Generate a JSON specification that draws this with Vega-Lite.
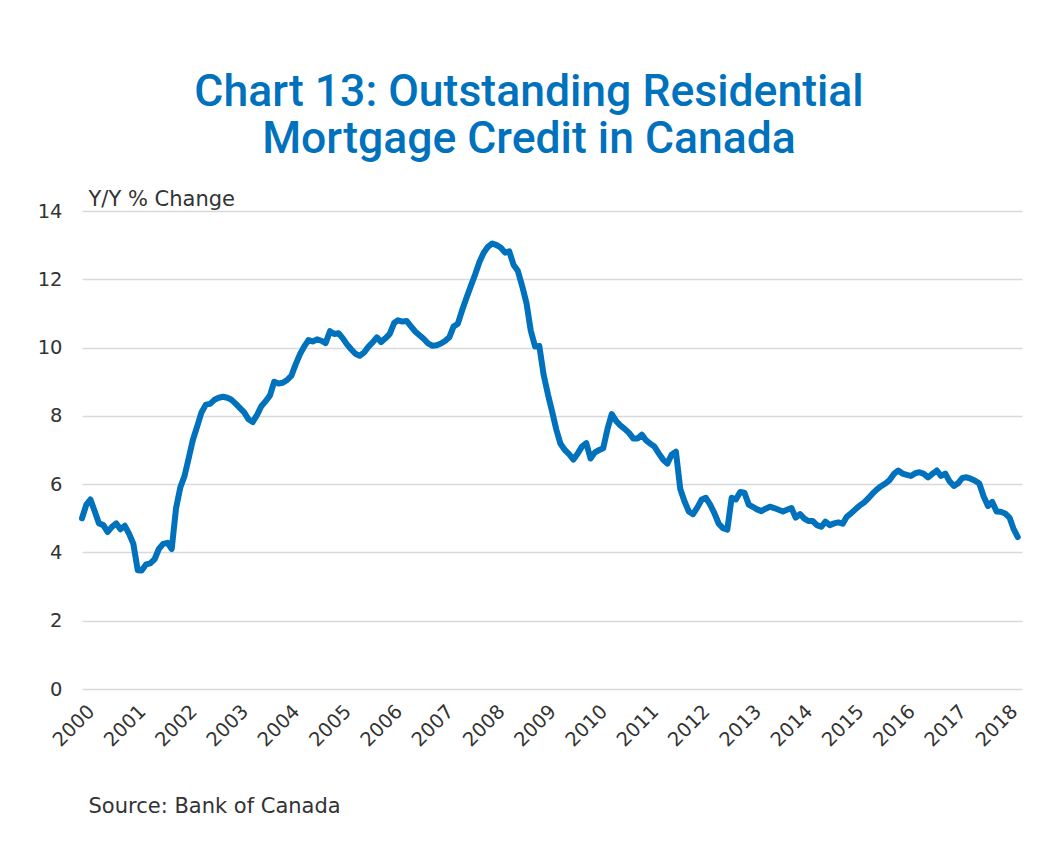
{
  "$schema": "https://vega.github.io/schema/vega-lite/v6.json",
  "autosize": {"type": "none"},
  "padding": {"left": 82, "top": 211, "right": 28, "bottom": 161},
  "width": 940,
  "height": 478,
  "background": "white",
  "title": {
    "text": ["Chart 13: Outstanding Residential", "Mortgage Credit in Canada"],
    "anchor": "middle",
    "dx": -23,
    "font": "Roboto",
    "fontWeight": 500,
    "fontSize": 44.5,
    "color": "#0071BC",
    "lineHeight": 47,
    "offset": 26
  },
  "data": {"values": [
    {"d":"2000-01-01T00:00","v":5.0},{"d":"2000-02-01T00:00","v":5.4},{"d":"2000-03-01T00:00","v":5.55},{"d":"2000-04-01T00:00","v":5.2},{"d":"2000-05-01T00:00","v":4.85},{"d":"2000-06-01T00:00","v":4.8},{"d":"2000-07-01T00:00","v":4.6},{"d":"2000-08-01T00:00","v":4.75},{"d":"2000-09-01T00:00","v":4.85},{"d":"2000-10-01T00:00","v":4.68},{"d":"2000-11-01T00:00","v":4.78},{"d":"2000-12-01T00:00","v":4.55},
    {"d":"2001-01-01T00:00","v":4.25},{"d":"2001-02-01T00:00","v":3.48},{"d":"2001-03-01T00:00","v":3.47},{"d":"2001-04-01T00:00","v":3.65},{"d":"2001-05-01T00:00","v":3.68},{"d":"2001-06-01T00:00","v":3.8},{"d":"2001-07-01T00:00","v":4.1},{"d":"2001-08-01T00:00","v":4.25},{"d":"2001-09-01T00:00","v":4.28},{"d":"2001-10-01T00:00","v":4.1},{"d":"2001-11-01T00:00","v":5.3},{"d":"2001-12-01T00:00","v":5.9},
    {"d":"2002-01-01T00:00","v":6.25},{"d":"2002-02-01T00:00","v":6.8},{"d":"2002-03-01T00:00","v":7.3},{"d":"2002-04-01T00:00","v":7.7},{"d":"2002-05-01T00:00","v":8.1},{"d":"2002-06-01T00:00","v":8.33},{"d":"2002-07-01T00:00","v":8.35},{"d":"2002-08-01T00:00","v":8.47},{"d":"2002-09-01T00:00","v":8.53},{"d":"2002-10-01T00:00","v":8.56},{"d":"2002-11-01T00:00","v":8.53},{"d":"2002-12-01T00:00","v":8.47},
    {"d":"2003-01-01T00:00","v":8.35},{"d":"2003-02-01T00:00","v":8.22},{"d":"2003-03-01T00:00","v":8.1},{"d":"2003-04-01T00:00","v":7.9},{"d":"2003-05-01T00:00","v":7.82},{"d":"2003-06-01T00:00","v":8.03},{"d":"2003-07-01T00:00","v":8.28},{"d":"2003-08-01T00:00","v":8.43},{"d":"2003-09-01T00:00","v":8.6},{"d":"2003-10-01T00:00","v":9.0},{"d":"2003-11-01T00:00","v":8.95},{"d":"2003-12-01T00:00","v":8.97},
    {"d":"2004-01-01T00:00","v":9.05},{"d":"2004-02-01T00:00","v":9.18},{"d":"2004-03-01T00:00","v":9.5},{"d":"2004-04-01T00:00","v":9.8},{"d":"2004-05-01T00:00","v":10.03},{"d":"2004-06-01T00:00","v":10.22},{"d":"2004-07-01T00:00","v":10.18},{"d":"2004-08-01T00:00","v":10.24},{"d":"2004-09-01T00:00","v":10.2},{"d":"2004-10-01T00:00","v":10.13},{"d":"2004-11-01T00:00","v":10.48},{"d":"2004-12-01T00:00","v":10.4},
    {"d":"2005-01-01T00:00","v":10.42},{"d":"2005-02-01T00:00","v":10.27},{"d":"2005-03-01T00:00","v":10.1},{"d":"2005-04-01T00:00","v":9.95},{"d":"2005-05-01T00:00","v":9.82},{"d":"2005-06-01T00:00","v":9.76},{"d":"2005-07-01T00:00","v":9.85},{"d":"2005-08-01T00:00","v":10.02},{"d":"2005-09-01T00:00","v":10.15},{"d":"2005-10-01T00:00","v":10.3},{"d":"2005-11-01T00:00","v":10.16},{"d":"2005-12-01T00:00","v":10.27},
    {"d":"2006-01-01T00:00","v":10.4},{"d":"2006-02-01T00:00","v":10.72},{"d":"2006-03-01T00:00","v":10.8},{"d":"2006-04-01T00:00","v":10.76},{"d":"2006-05-01T00:00","v":10.78},{"d":"2006-06-01T00:00","v":10.62},{"d":"2006-07-01T00:00","v":10.47},{"d":"2006-08-01T00:00","v":10.36},{"d":"2006-09-01T00:00","v":10.25},{"d":"2006-10-01T00:00","v":10.12},{"d":"2006-11-01T00:00","v":10.05},{"d":"2006-12-01T00:00","v":10.07},
    {"d":"2007-01-01T00:00","v":10.12},{"d":"2007-02-01T00:00","v":10.2},{"d":"2007-03-01T00:00","v":10.3},{"d":"2007-04-01T00:00","v":10.62},{"d":"2007-05-01T00:00","v":10.7},{"d":"2007-06-01T00:00","v":11.1},{"d":"2007-07-01T00:00","v":11.45},{"d":"2007-08-01T00:00","v":11.8},{"d":"2007-09-01T00:00","v":12.14},{"d":"2007-10-01T00:00","v":12.5},{"d":"2007-11-01T00:00","v":12.78},{"d":"2007-12-01T00:00","v":12.95},
    {"d":"2008-01-01T00:00","v":13.05},{"d":"2008-02-01T00:00","v":13.0},{"d":"2008-03-01T00:00","v":12.93},{"d":"2008-04-01T00:00","v":12.78},{"d":"2008-05-01T00:00","v":12.82},{"d":"2008-06-01T00:00","v":12.42},{"d":"2008-07-01T00:00","v":12.25},{"d":"2008-08-01T00:00","v":11.8},{"d":"2008-09-01T00:00","v":11.3},{"d":"2008-10-01T00:00","v":10.5},{"d":"2008-11-01T00:00","v":10.03},{"d":"2008-12-01T00:00","v":10.05},
    {"d":"2009-01-01T00:00","v":9.2},{"d":"2009-02-01T00:00","v":8.62},{"d":"2009-03-01T00:00","v":8.15},{"d":"2009-04-01T00:00","v":7.6},{"d":"2009-05-01T00:00","v":7.18},{"d":"2009-06-01T00:00","v":7.0},{"d":"2009-07-01T00:00","v":6.88},{"d":"2009-08-01T00:00","v":6.72},{"d":"2009-09-01T00:00","v":6.9},{"d":"2009-10-01T00:00","v":7.1},{"d":"2009-11-01T00:00","v":7.2},{"d":"2009-12-01T00:00","v":6.75},
    {"d":"2010-01-01T00:00","v":6.93},{"d":"2010-02-01T00:00","v":7.0},{"d":"2010-03-01T00:00","v":7.05},{"d":"2010-04-01T00:00","v":7.62},{"d":"2010-05-01T00:00","v":8.05},{"d":"2010-06-01T00:00","v":7.85},{"d":"2010-07-01T00:00","v":7.72},{"d":"2010-08-01T00:00","v":7.62},{"d":"2010-09-01T00:00","v":7.5},{"d":"2010-10-01T00:00","v":7.34},{"d":"2010-11-01T00:00","v":7.34},{"d":"2010-12-01T00:00","v":7.45},
    {"d":"2011-01-01T00:00","v":7.28},{"d":"2011-02-01T00:00","v":7.18},{"d":"2011-03-01T00:00","v":7.1},{"d":"2011-04-01T00:00","v":6.9},{"d":"2011-05-01T00:00","v":6.72},{"d":"2011-06-01T00:00","v":6.6},{"d":"2011-07-01T00:00","v":6.86},{"d":"2011-08-01T00:00","v":6.95},{"d":"2011-09-01T00:00","v":5.86},{"d":"2011-10-01T00:00","v":5.5},{"d":"2011-11-01T00:00","v":5.2},{"d":"2011-12-01T00:00","v":5.12},
    {"d":"2012-01-01T00:00","v":5.32},{"d":"2012-02-01T00:00","v":5.55},{"d":"2012-03-01T00:00","v":5.6},{"d":"2012-04-01T00:00","v":5.4},{"d":"2012-05-01T00:00","v":5.15},{"d":"2012-06-01T00:00","v":4.84},{"d":"2012-07-01T00:00","v":4.71},{"d":"2012-08-01T00:00","v":4.67},{"d":"2012-09-01T00:00","v":5.6},{"d":"2012-10-01T00:00","v":5.55},{"d":"2012-11-01T00:00","v":5.77},{"d":"2012-12-01T00:00","v":5.75},
    {"d":"2013-01-01T00:00","v":5.4},{"d":"2013-02-01T00:00","v":5.33},{"d":"2013-03-01T00:00","v":5.26},{"d":"2013-04-01T00:00","v":5.21},{"d":"2013-05-01T00:00","v":5.28},{"d":"2013-06-01T00:00","v":5.34},{"d":"2013-07-01T00:00","v":5.3},{"d":"2013-08-01T00:00","v":5.25},{"d":"2013-09-01T00:00","v":5.2},{"d":"2013-10-01T00:00","v":5.25},{"d":"2013-11-01T00:00","v":5.3},{"d":"2013-12-01T00:00","v":5.02},
    {"d":"2014-01-01T00:00","v":5.12},{"d":"2014-02-01T00:00","v":4.99},{"d":"2014-03-01T00:00","v":4.92},{"d":"2014-04-01T00:00","v":4.92},{"d":"2014-05-01T00:00","v":4.8},{"d":"2014-06-01T00:00","v":4.75},{"d":"2014-07-01T00:00","v":4.9},{"d":"2014-08-01T00:00","v":4.8},{"d":"2014-09-01T00:00","v":4.85},{"d":"2014-10-01T00:00","v":4.88},{"d":"2014-11-01T00:00","v":4.84},{"d":"2014-12-01T00:00","v":5.05},
    {"d":"2015-01-01T00:00","v":5.15},{"d":"2015-02-01T00:00","v":5.27},{"d":"2015-03-01T00:00","v":5.37},{"d":"2015-04-01T00:00","v":5.46},{"d":"2015-05-01T00:00","v":5.58},{"d":"2015-06-01T00:00","v":5.72},{"d":"2015-07-01T00:00","v":5.84},{"d":"2015-08-01T00:00","v":5.94},{"d":"2015-09-01T00:00","v":6.02},{"d":"2015-10-01T00:00","v":6.12},{"d":"2015-11-01T00:00","v":6.3},{"d":"2015-12-01T00:00","v":6.4},
    {"d":"2016-01-01T00:00","v":6.31},{"d":"2016-02-01T00:00","v":6.27},{"d":"2016-03-01T00:00","v":6.24},{"d":"2016-04-01T00:00","v":6.32},{"d":"2016-05-01T00:00","v":6.35},{"d":"2016-06-01T00:00","v":6.3},{"d":"2016-07-01T00:00","v":6.2},{"d":"2016-08-01T00:00","v":6.3},{"d":"2016-09-01T00:00","v":6.4},{"d":"2016-10-01T00:00","v":6.24},{"d":"2016-11-01T00:00","v":6.31},{"d":"2016-12-01T00:00","v":6.08},
    {"d":"2017-01-01T00:00","v":5.95},{"d":"2017-02-01T00:00","v":6.03},{"d":"2017-03-01T00:00","v":6.18},{"d":"2017-04-01T00:00","v":6.2},{"d":"2017-05-01T00:00","v":6.16},{"d":"2017-06-01T00:00","v":6.1},{"d":"2017-07-01T00:00","v":6.02},{"d":"2017-08-01T00:00","v":5.64},{"d":"2017-09-01T00:00","v":5.36},{"d":"2017-10-01T00:00","v":5.48},{"d":"2017-11-01T00:00","v":5.2},{"d":"2017-12-01T00:00","v":5.19},
    {"d":"2018-01-01T00:00","v":5.14},{"d":"2018-02-01T00:00","v":5.02},{"d":"2018-03-01T00:00","v":4.7},{"d":"2018-04-01T00:00","v":4.45}
  ]},
  "mark": {"type": "line", "color": "#0071BC", "strokeWidth": 6, "strokeJoin": "round", "strokeCap": "round"},
  "encoding": {
    "x": {
      "field": "d", "type": "temporal",
      "scale": {"domain": [{"year": 2000, "month": 1, "date": 1}, {"year": 2018, "month": 5, "date": 1}]},
      "axis": {
        "title": "Source: Bank of Canada",
        "titleFont": "DejaVu Sans", "titleFontSize": 21, "titleFontWeight": "normal", "titleColor": "#333333",
        "titleAlign": "left", "titleAnchor": "start", "titleBaseline": "alphabetic", "titleX": 6, "titleY": 123,
        "format": "%Y", "tickCount": {"interval": "year", "step": 1},
        "labelAngle": -45, "labelAlign": "right", "labelBaseline": "middle",
        "labelOffset": 9, "labelPadding": 19, "labelFlush": false, "labelOverlap": false,
        "labelFont": "DejaVu Sans", "labelFontSize": 19.5, "labelColor": "#333333",
        "domain": false, "ticks": false, "grid": false
      }
    },
    "y": {
      "field": "v", "type": "quantitative",
      "scale": {"domain": [0, 14], "nice": false, "zero": true},
      "axis": {
        "title": "Y/Y % Change",
        "titleFont": "DejaVu Sans", "titleFontSize": 21, "titleFontWeight": "normal", "titleColor": "#333333",
        "titleAngle": 0, "titleAlign": "left", "titleAnchor": "start", "titleBaseline": "alphabetic", "titleX": 6, "titleY": -6,
        "values": [0, 2, 4, 6, 8, 10, 12, 14],
        "labelFont": "DejaVu Sans", "labelFontSize": 19.5, "labelColor": "#333333", "labelPadding": 20,
        "domain": false, "ticks": false,
        "grid": true, "gridColor": "#d9d9d9", "gridWidth": 1.5
      }
    }
  },
  "config": {"view": {"stroke": null}}
}
